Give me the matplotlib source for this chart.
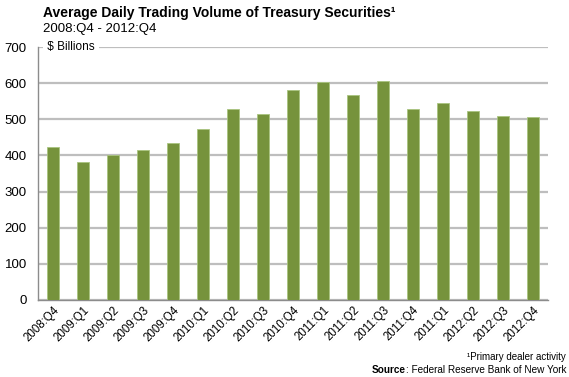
import matplotlib
matplotlib.use("Agg")
import matplotlib.pyplot as plt

# quarterly average daily trading volume, $ billions
quarters = ["2008:Q4", "2009:Q1", "2009:Q2", "2009:Q3", "2009:Q4",
            "2010:Q1", "2010:Q2", "2010:Q3", "2010:Q4",
            "2011:Q1", "2011:Q2", "2011:Q3", "2011:Q4",
            "2011:Q1", "2012:Q2", "2012:Q3", "2012:Q4"]
volume = [424, 383, 401, 416, 434, 473, 528, 516, 581,
          602, 567, 605, 528, 544, 523, 510, 507]
yticks = [0, 100, 200, 300, 400, 500, 600, 700]

plt.rcParams['font.family'] = ['Liberation Sans', 'DejaVu Sans']

fig = plt.figure(figsize=(5.69, 3.77), dpi=100)
ax = fig.add_axes([38 / 569, 1 - 300 / 377, 510 / 569, 253 / 377])

x = range(len(volume))
ax.bar(x, volume, width=0.4, color="#76933C", edgecolor="#A9C47F",
       linewidth=0.6, zorder=3)

ax.set_xlim(-0.5, len(volume) - 0.5)
ax.set_ylim(0, 700)
ax.set_yticks(yticks)
ax.set_yticklabels([str(v) for v in yticks], fontsize=9.5)
ax.yaxis.grid(True, color="#BEBEBE", linewidth=1.6, zorder=0)
ax.tick_params(axis="y", length=0, pad=8)
ax.tick_params(axis="x", length=0, pad=3)
ax.set_xticks(list(x))
ax.set_xticklabels(quarters, rotation=45, ha="right", va="top",
                   rotation_mode="anchor", fontsize=8.3)

for side in ["top", "right"]:
    ax.spines[side].set_visible(False)
for side in ["left", "bottom"]:
    ax.spines[side].set_color("#8C8C8C")
    ax.spines[side].set_linewidth(1.0)

ax.text(0.012, 700, " $ Billions ", fontsize=8.5, va="center", ha="left",
        transform=ax.get_yaxis_transform(),
        bbox=dict(facecolor="white", edgecolor="none", pad=0.5), zorder=4)

fig.text(43 / 569, 1 - 13 / 377,
         "Average Daily Trading Volume of Treasury Securities\u00b9",
         fontsize=10, fontweight="bold", va="center")
fig.text(43 / 569, 1 - 29 / 377, "2008:Q4 - 2012:Q4", fontsize=9.5,
         va="center")

fig.text(566 / 569, 1 - 357 / 377, "\u00b9Primary dealer activity",
         fontsize=7, ha="right", va="center")
src = fig.text(566 / 569, 1 - 370 / 377, ": Federal Reserve Bank of New York",
               fontsize=7.2, ha="right", va="center")
fig.canvas.draw()
bb = src.get_window_extent()
fig.text(bb.x0 / fig.bbox.width, 1 - 370 / 377, "Source", fontsize=7.2,
         fontweight="bold", ha="right", va="center")

fig.savefig("out.png", dpi=100)
